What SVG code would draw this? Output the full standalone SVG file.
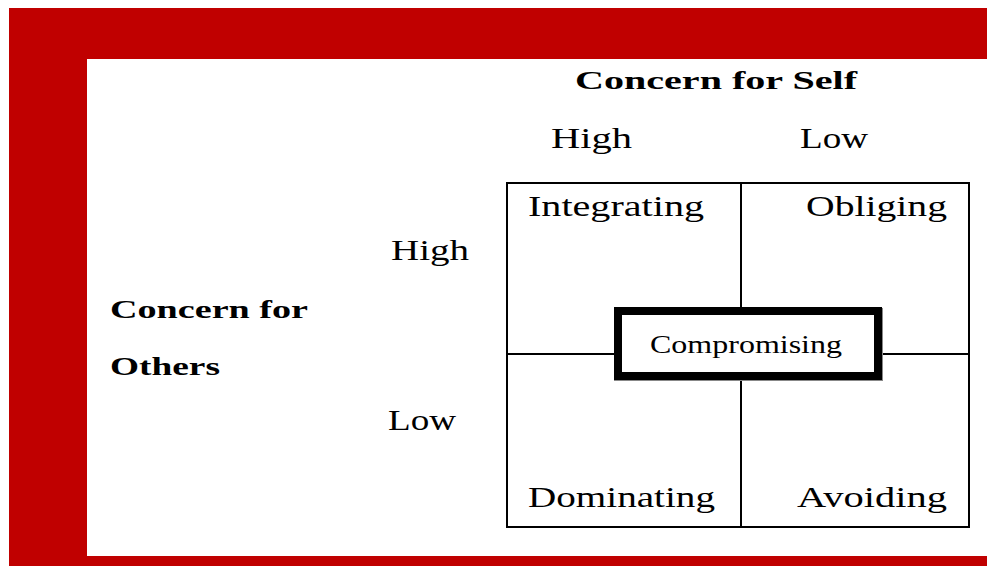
<svg xmlns="http://www.w3.org/2000/svg" width="987" height="566" viewBox="0 0 987 566">
<style>
.t{font-family:"Liberation Serif","Times New Roman",serif;font-size:29px;fill:#000}
.b{font-family:"Liberation Serif","Times New Roman",serif;font-size:25px;font-weight:bold;fill:#000}
.c{font-family:"Liberation Serif","Times New Roman",serif;font-size:26px;fill:#000}
.ln{stroke:#000;stroke-width:2;fill:none}
</style>
<rect x="0" y="0" width="987" height="566" fill="#fff"/>
<g id="frame">
<rect x="9" y="8" width="978" height="558" fill="#c00000"/>
<rect x="87" y="59" width="900" height="497" fill="#fff"/>
</g>
<g id="connectors">
<rect class="ln" x="507" y="183" width="462" height="344"/>
<line class="ln" x1="741" y1="183" x2="741" y2="527"/>
<line class="ln" x1="507" y1="354" x2="969" y2="354"/>
</g>
<g id="title-self"><text class="b" x="575" y="89" textLength="282" lengthAdjust="spacingAndGlyphs">Concern for Self</text></g>
<g id="self-high"><text class="t" x="551" y="148" textLength="81" lengthAdjust="spacingAndGlyphs">High</text></g>
<g id="self-low"><text class="t" x="800" y="148" textLength="68" lengthAdjust="spacingAndGlyphs">Low</text></g>
<g id="title-others">
<text class="b" x="110" y="318" textLength="198" lengthAdjust="spacingAndGlyphs">Concern for</text>
<text class="b" x="110" y="375" textLength="110" lengthAdjust="spacingAndGlyphs">Others</text>
</g>
<g id="others-high"><text class="t" x="391" y="260" textLength="78" lengthAdjust="spacingAndGlyphs">High</text></g>
<g id="others-low"><text class="t" x="388" y="430" textLength="68" lengthAdjust="spacingAndGlyphs">Low</text></g>
<g id="integrating"><text class="t" x="528" y="216" textLength="176" lengthAdjust="spacingAndGlyphs">Integrating</text></g>
<g id="obliging"><text class="t" x="806" y="216" textLength="141" lengthAdjust="spacingAndGlyphs">Obliging</text></g>
<g id="dominating"><text class="t" x="528" y="507" textLength="187" lengthAdjust="spacingAndGlyphs">Dominating</text></g>
<g id="avoiding"><text class="t" x="797" y="507" textLength="150" lengthAdjust="spacingAndGlyphs">Avoiding</text></g>
<g id="compromising">
<rect x="614" y="308" width="269" height="73" fill="#888"/>
<rect x="618" y="311" width="260" height="65" fill="#fff" stroke="#000" stroke-width="8"/>
<text class="c" x="650" y="353" textLength="192" lengthAdjust="spacingAndGlyphs">Compromising</text>
</g>
</svg>
